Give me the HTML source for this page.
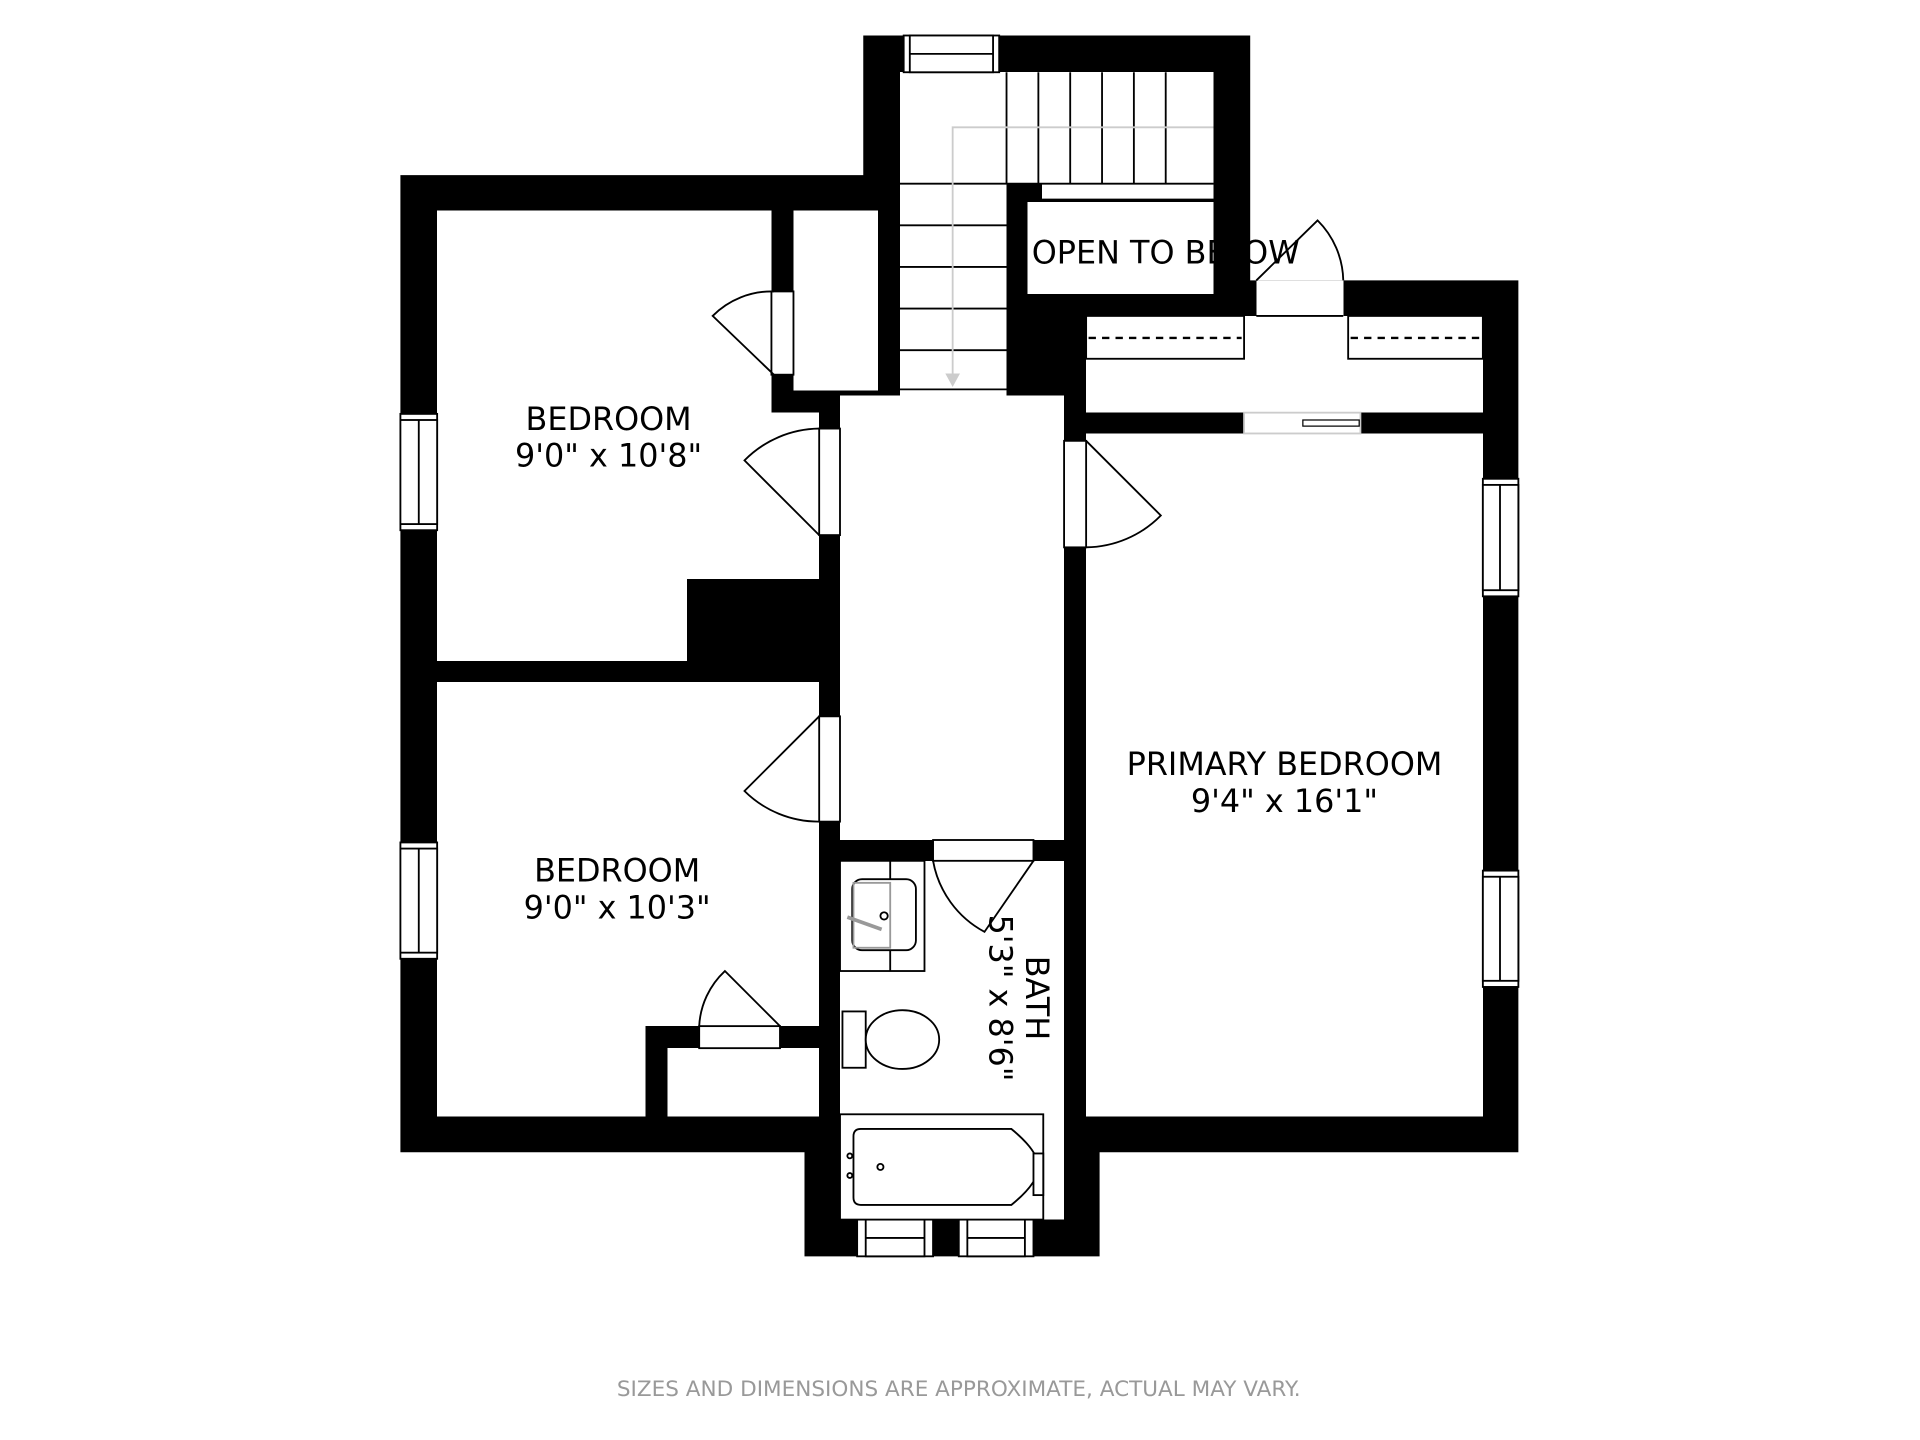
<!DOCTYPE html>
<html><head><meta charset="utf-8"><style>html,body{margin:0;padding:0;background:#fff}svg{display:block}</style></head>
<body>
<svg width="1920" height="1440" viewBox="0 0 1568 1176" xmlns="http://www.w3.org/2000/svg" font-family="'DejaVu Sans','Liberation Sans',sans-serif">
<rect width="1568" height="1176" fill="#fff"/>
<polygon points="327,143 705,143 705,29 1021,29 1021,229 1240,229 1240,941 898,941 898,1026 657,1026 657,941 327,941" fill="#000"/>
<g fill="#fff" shape-rendering="crispEdges">
<path d="M357,172 H630 V337 H669 V473 H561 V540 H357 Z"/>
<rect x="648" y="172" width="69" height="147"/>
<rect x="686" y="323" width="183" height="363"/>
<rect x="735" y="59" width="87" height="264"/>
<rect x="822" y="59" width="169" height="91"/>
<rect x="851" y="150" width="140" height="13"/>
<rect x="839" y="165" width="152" height="75"/>
<rect x="887" y="258" width="324" height="79"/>
<rect x="1026" y="229" width="71" height="29"/>
<rect x="887" y="354" width="324" height="558"/>
<rect x="1016" y="337" width="95" height="17"/>
<path d="M357,557 H669 V838 H527 V912 H357 Z"/>
<rect x="545" y="856" width="124" height="56"/>
<rect x="686" y="703" width="183" height="293"/>
<rect x="762" y="686" width="82" height="17"/>
</g>
<g fill="none" stroke="#000" stroke-width="1.5">
<line x1="822" y1="59" x2="822" y2="150"/>
<line x1="848" y1="59" x2="848" y2="150"/><line x1="874" y1="59" x2="874" y2="150"/><line x1="900" y1="59" x2="900" y2="150"/><line x1="926" y1="59" x2="926" y2="150"/><line x1="952" y1="59" x2="952" y2="150"/>
<line x1="735" y1="150" x2="991" y2="150"/>
<line x1="735" y1="184" x2="822" y2="184"/><line x1="735" y1="218" x2="822" y2="218"/><line x1="735" y1="252" x2="822" y2="252"/><line x1="735" y1="286" x2="822" y2="286"/><line x1="735" y1="318" x2="822" y2="318"/>
<line x1="851" y1="163" x2="991" y2="163"/>
<rect x="887" y="258" width="129" height="35"/>
<rect x="1101" y="258" width="110" height="35"/>
<line x1="1026" y1="258" x2="1097" y2="258"/>
</g>
<g stroke="#000" stroke-width="2" stroke-dasharray="6,5">
<line x1="889" y1="276" x2="1014" y2="276"/><line x1="1103" y1="276" x2="1209" y2="276"/>
</g>
<g fill="none" stroke="#ccc" stroke-width="1.5">
<polyline points="991,104 778,104 778,306"/>
<rect x="1016" y="337" width="95" height="17"/>
</g>
<polygon points="772,305 784,305 778,316" fill="#ccc"/>
<rect x="1064" y="343" width="46" height="5" fill="#fff" stroke="#000" stroke-width="1"/>
<g fill="#fff" stroke="#000" stroke-width="1.5">
<rect x="738" y="29" width="78" height="30"/><rect x="743" y="29" width="68" height="30"/><line x1="743" y1="44" x2="811" y2="44"/>
<rect x="327" y="338" width="30" height="95"/><rect x="327" y="343" width="30" height="85"/><line x1="342" y1="343" x2="342" y2="428"/>
<rect x="327" y="688" width="30" height="95"/><rect x="327" y="693" width="30" height="85"/><line x1="342" y1="693" x2="342" y2="778"/>
<rect x="1211" y="391" width="29" height="96"/><rect x="1211" y="396" width="29" height="86"/><line x1="1225" y1="396" x2="1225" y2="482"/>
<rect x="1211" y="711" width="29" height="95"/><rect x="1211" y="716" width="29" height="85"/><line x1="1225" y1="716" x2="1225" y2="801"/>
<rect x="700" y="996" width="62" height="30"/><rect x="707" y="996" width="48" height="30"/><line x1="707" y1="1011" x2="755" y2="1011"/>
<rect x="783" y="996" width="61" height="30"/><rect x="790" y="996" width="47" height="30"/><line x1="790" y1="1011" x2="837" y2="1011"/>
<rect x="630" y="238" width="18" height="68"/>
<rect x="669" y="350" width="17" height="87"/>
<rect x="669" y="585" width="17" height="86"/>
<rect x="869" y="360" width="18" height="87"/>
<rect x="571" y="838" width="66" height="18"/>
<rect x="762" y="686" width="82" height="17"/>
</g>
<g fill="none" stroke="#000" stroke-width="1.5">
<path d="M632,306 L582,258 A68,68 0 0 1 632,238"/>
<path d="M669,437 L608,376 A87,87 0 0 1 669,350"/>
<path d="M669,585 L608,646 A86,86 0 0 0 669,671"/>
<path d="M887,360 L948,421 A87,87 0 0 1 887,447"/>
<path d="M637,838 L592,793 A66,66 0 0 0 571,838"/>
<path d="M844,703 L804,761 A82,82 0 0 1 762,703"/>
<path d="M1026,229 L1076,180 A71,71 0 0 1 1097,229"/>
</g>
<g fill="#fff" stroke="#000" stroke-width="1.5">
<rect x="686" y="703" width="69" height="90"/>
<line x1="727" y1="703" x2="727" y2="793"/>
<rect x="696" y="718" width="52" height="58" rx="8"/>
<circle cx="722" cy="748" r="3"/>
<rect x="688" y="826" width="19" height="46"/>
<ellipse cx="737" cy="849" rx="30" ry="24"/>
<rect x="686" y="910" width="166" height="86"/>
<path d="M703,922 L826,922 Q848,940 848,953 Q848,966 826,984 L703,984 Q697,984 697,978 L697,928 Q697,922 703,922 Z"/>
<rect x="844" y="942" width="8" height="34"/>
<circle cx="694" cy="944" r="2"/><circle cx="694" cy="960" r="2"/><circle cx="719" cy="953" r="2.5"/>
</g>
<line x1="692" y1="749" x2="720" y2="759" stroke="#999" stroke-width="3"/>
<rect x="697" y="721" width="30" height="53" fill="none" stroke="#999" stroke-width="1.5"/>
<g font-size="26" fill="#000" text-anchor="middle">
<text x="497" y="351">BEDROOM</text>
<text x="497" y="381">9'0" x 10'8"</text>
<text x="504" y="720">BEDROOM</text>
<text x="504" y="750">9'0" x 10'3"</text>
<text x="1049" y="633">PRIMARY BEDROOM</text>
<text x="1049" y="663">9'4" x 16'1"</text>
<text x="952" y="215" font-size="26">OPEN TO BELOW</text>
<g transform="translate(830,815) rotate(90)"><text x="0" y="-8">BATH</text><text x="0" y="22">5'3" x 8'6"</text></g>
</g>
<text x="783" y="1140" font-size="17.6" fill="#999" text-anchor="middle">SIZES AND DIMENSIONS ARE APPROXIMATE, ACTUAL MAY VARY.</text>
</svg>
</body></html>
